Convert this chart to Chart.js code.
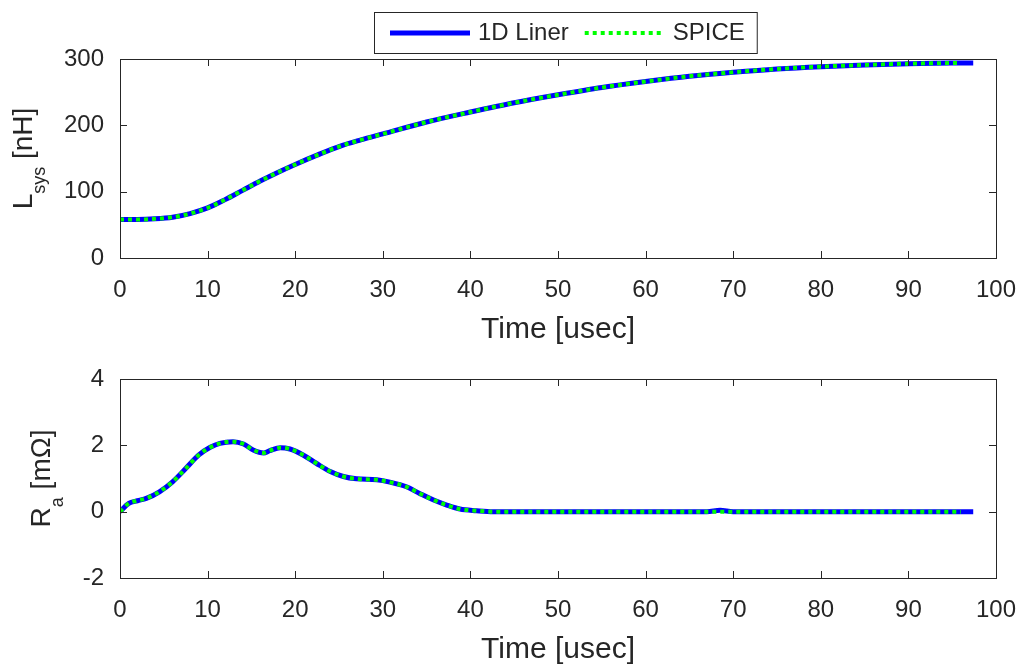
<!DOCTYPE html>
<html>
<head>
<meta charset="utf-8">
<script src="https://cdn.jsdelivr.net/npm/chart.js@4.4.0/dist/chart.umd.min.js"></script>
<style>
  body { margin: 0; background: #fff; }
  #wrap { position: relative; width: 1021px; height: 667px; overflow: hidden; }
  canvas { position: absolute; left: 0; }
  #topChart { top: 0; }
  #botChart { top: 320px; }
</style>
</head>
<body>
<div id="wrap">
  <canvas id="topChart" width="1021" height="352"></canvas>
  <canvas id="botChart" width="1021" height="347"></canvas>
</div>
<script>
// ---- data ----
const seriesNames = ["1D Liner", "SPICE"];
const xTickVals = [0, 10, 20, 30, 40, 50, 60, 70, 80, 90, 100];
const lsysTickVals = [0, 100, 200, 300];
const raTickVals = [-2, 0, 2, 4];

// top panel: L_sys [nH]
const lsysTime = [0, 2, 4, 6, 8, 10, 12, 14, 16, 18, 20, 22.5, 25, 27.5, 30, 35, 40, 45, 50, 55, 60, 65, 70, 75, 80, 85, 90, 95, 97.4];
const lsysLiner = [58, 58, 59, 61.5, 67, 75.5, 88, 102, 116, 129, 141, 155, 168, 178, 187, 205, 220, 234, 246, 257, 266, 274, 280, 285, 288.5, 291, 293, 294, 294];
const lsysSpiceTime = [0, 2, 4, 6, 8, 10, 12, 14, 16, 18, 20, 22.5, 25, 27.5, 30, 35, 40, 45, 50, 55, 60, 65, 70, 75, 80, 85, 90, 96];
const lsysSpice = [58, 58, 59, 61.5, 67, 75.5, 88, 102, 116, 129, 141, 155, 168, 178, 187, 205, 220, 234, 246, 257, 266, 274, 280, 285, 288.5, 291, 293, 294];

// bottom panel: R_a [mOhm]
const raTime = [0, 1, 2, 3, 4.5, 6, 7.5, 9, 10.3, 11.4, 12.9, 14.1, 15.2, 16.4, 17.1, 18.3, 19.4, 20.9, 22.4, 24, 25.5, 27, 29.3, 30.8, 32.7, 34.2, 35.8, 37.3, 38.8, 40.7, 42.6, 50, 60, 67, 68.5, 70, 80, 90, 97.4];
const raLiner = [0, 0.25, 0.33, 0.4, 0.6, 0.9, 1.3, 1.71, 1.94, 2.06, 2.11, 2.04, 1.86, 1.77, 1.84, 1.93, 1.89, 1.71, 1.46, 1.21, 1.06, 0.99, 0.96, 0.89, 0.75, 0.55, 0.35, 0.2, 0.08, 0.03, 0, 0, 0, 0, 0.04, 0, 0, 0, 0];
const raSpiceTime = [0, 1, 2, 3, 4.5, 6, 7.5, 9, 10.3, 11.4, 12.9, 14.1, 15.2, 16.4, 17.1, 18.3, 19.4, 20.9, 22.4, 24, 25.5, 27, 29.3, 30.8, 32.7, 34.2, 35.8, 37.3, 38.8, 40.7, 42.6, 50, 60, 70, 80, 90, 96];
const raSpice = [0, 0.25, 0.33, 0.4, 0.6, 0.9, 1.3, 1.71, 1.94, 2.06, 2.11, 2.04, 1.86, 1.77, 1.84, 1.93, 1.89, 1.71, 1.46, 1.21, 1.06, 0.99, 0.96, 0.89, 0.75, 0.55, 0.35, 0.2, 0.08, 0.03, 0, 0, 0, 0, 0, 0, 0];

const FONT = '"Liberation Sans", Arial, Helvetica, sans-serif';
const INK = "#262626";

function pts(xs, ys) {
    return xs.map((x, i) => ({ x: x, y: ys[i] }));
}

function makeSets(t1, y1, t2, y2) {
    return [
        {
            label: seriesNames[0], data: pts(t1, y1),
            borderColor: "#0000ff", borderWidth: 5, order: 1,
            pointRadius: 0, cubicInterpolationMode: "monotone", fill: false
        },
        {
            label: seriesNames[1], data: pts(t2, y2),
            borderColor: "#00ff00", borderWidth: 4, borderDash: [4, 4], order: 0,
            pointRadius: 0, cubicInterpolationMode: "monotone", fill: false
        }
    ];
}

// box + inward ticks like matlab axes
const matlabAxes = {
    id: "matlabAxes",
    afterDatasetsDraw(chart) {
        const { ctx, chartArea: a, scales } = chart;
        const tl = 7;
        ctx.save();
        ctx.strokeStyle = INK;
        ctx.lineWidth = 1;
        ctx.beginPath();
        scales.x.ticks.forEach(t => {
            const px = Math.round(scales.x.getPixelForValue(t.value)) + 0.5;
            ctx.moveTo(px, a.top); ctx.lineTo(px, a.top + tl);
            ctx.moveTo(px, a.bottom); ctx.lineTo(px, a.bottom - tl);
        });
        scales.y.ticks.forEach(t => {
            const py = Math.round(scales.y.getPixelForValue(t.value)) + 0.5;
            ctx.moveTo(a.left, py); ctx.lineTo(a.left + tl, py);
            ctx.moveTo(a.right, py); ctx.lineTo(a.right - tl, py);
        });
        ctx.stroke();
        ctx.strokeRect(Math.round(a.left) + 0.5, Math.round(a.top) + 0.5,
            Math.round(a.right - a.left), Math.round(a.bottom - a.top));
        ctx.restore();
    }
};

// rotated y label with a subscript
const yLabel = {
    id: "yLabel",
    afterDraw(chart, args, opts) {
        if (!opts.parts) return;
        const ctx = chart.ctx;
        const a = chart.chartArea;
        const fontOf = p => (p.sub ? "18px " : "28px ") + FONT;
        ctx.save();
        let total = 0;
        opts.parts.forEach(p => { ctx.font = fontOf(p); total += ctx.measureText(p.text).width; });
        ctx.translate(opts.x, (a.top + a.bottom) / 2);
        ctx.rotate(-Math.PI / 2);
        ctx.fillStyle = INK;
        ctx.textBaseline = "alphabetic";
        let cx = -total / 2;
        opts.parts.forEach(p => {
            ctx.font = fontOf(p);
            ctx.fillText(p.text, cx, p.sub ? 13 : 0);
            cx += ctx.measureText(p.text).width;
        });
        ctx.restore();
    }
};

// legend drawn with a border box
const boxLegend = {
    id: "boxLegend",
    afterDraw(chart, args, opts) {
        if (!opts.show) return;
        const ctx = chart.ctx;
        const sets = chart.data.datasets;
        const lineLen = 80, gapLT = 8, gapItem = 16, pad = 16, padR = 12;
        ctx.save();
        ctx.font = "24px " + FONT;
        const widths = sets.map(d => ctx.measureText(d.label).width);
        let total = pad + padR + gapItem * (sets.length - 1);
        widths.forEach(w => { total += lineLen + gapLT + w; });
        const left = Math.round(opts.centerX - total / 2);
        const top = opts.top, h = opts.height;
        const midY = top + h / 2 + 0.5;
        ctx.fillStyle = "#fff";
        ctx.fillRect(left, top, total, h);
        ctx.strokeStyle = INK;
        ctx.lineWidth = 1;
        ctx.strokeRect(left + 0.5, top + 0.5, total, h);
        let x = left + pad;
        sets.forEach((d, i) => {
            ctx.save();
            ctx.strokeStyle = d.borderColor;
            ctx.lineWidth = d.borderWidth;
            ctx.setLineDash(d.borderDash || []);
            ctx.beginPath();
            ctx.moveTo(x, midY); ctx.lineTo(x + lineLen, midY);
            ctx.stroke();
            ctx.restore();
            x += lineLen + gapLT;
            ctx.fillStyle = INK;
            ctx.textBaseline = "middle";
            ctx.fillText(d.label, x, midY);
            x += widths[i] + gapItem;
        });
        ctx.restore();
    }
};

function buildChart(id, sets, yMin, yMax, yTicks, extra) {
    return new Chart(document.getElementById(id), {
        type: "line",
        data: { datasets: sets },
        plugins: [matlabAxes, yLabel, boxLegend],
        options: {
            responsive: false,
            animation: false,
            layout: { padding: { top: 59, right: 25, left: 0, bottom: 0 } },
            plugins: {
                legend: { display: false },
                tooltip: { enabled: false },
                yLabel: extra.yLabel,
                boxLegend: extra.legend || { show: false }
            },
            scales: {
                x: {
                    type: "linear", min: 0, max: 100,
                    afterBuildTicks: s => { s.ticks = xTickVals.map(v => ({ value: v })); },
                    afterFit: s => { s.height = extra.xHeight; s.paddingLeft = 0; s.paddingRight = 0; },
                    grid: { display: false, drawTicks: false },
                    border: { display: false },
                    ticks: { color: INK, font: { family: FONT, size: 24, lineHeight: 1 }, padding: 20, maxRotation: 0, autoSkip: false },
                    title: {
                        display: true, text: "Time [usec]", color: INK,
                        font: { family: FONT, size: 30, lineHeight: 1 },
                        padding: { top: 0, bottom: extra.titlePad }
                    }
                },
                y: {
                    min: yMin, max: yMax,
                    afterBuildTicks: s => { s.ticks = yTicks.map(v => ({ value: v })); },
                    afterFit: s => { s.width = 120; s.paddingTop = 0; s.paddingBottom = 0; },
                    grid: { display: false, drawTicks: false },
                    border: { display: false },
                    ticks: { color: INK, font: { family: FONT, size: 24, lineHeight: 1 }, padding: 16 }
                }
            }
        }
    });
}

buildChart("topChart", makeSets(lsysTime, lsysLiner, lsysSpiceTime, lsysSpice), 0, 300, lsysTickVals, {
    xHeight: 94, titlePad: 7,
    yLabel: { x: 32, parts: [{ text: "L" }, { text: "sys", sub: true }, { text: " [nH]" }] },
    legend: { show: true, centerX: 565, top: 12, height: 41 }
});

buildChart("botChart", makeSets(raTime, raLiner, raSpiceTime, raSpice), -2, 4, raTickVals, {
    xHeight: 89, titlePad: 2,
    yLabel: { x: 50, parts: [{ text: "R" }, { text: "a", sub: true }, { text: " [mΩ]" }] }
});
</script>
</body>
</html>
